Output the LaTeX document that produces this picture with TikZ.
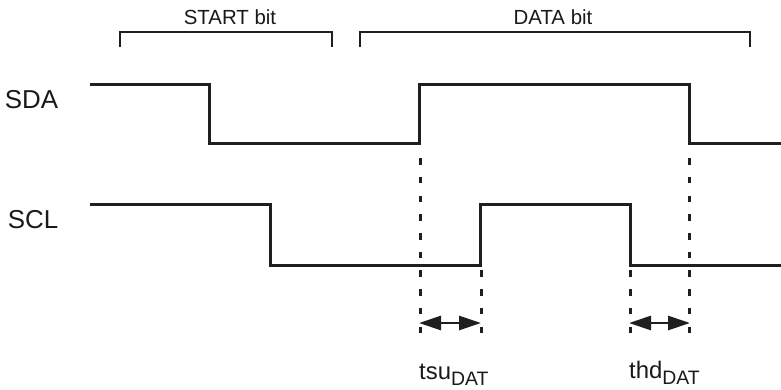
\documentclass[tikz,border=0pt]{standalone}
\usepackage{fontspec}
\setmainfont{Liberation Sans}
\usetikzlibrary{arrows.meta}
\begin{document}
\begin{tikzpicture}[x=1bp,y=-1bp,
  sig/.style={line width=3bp, line join=miter, line cap=butt, color=black!88},
  brk/.style={line width=2.8bp, color=black!88},
  guide/.style={line width=3bp, dash pattern=on 6.5bp off 12.2bp, color=black!88},
  dimarrow/.style={line width=2.8bp, color=black!88, {Triangle[length=22bp,width=14bp]}-{Triangle[length=22bp,width=14bp]}},
  siglbl/.style={font=\fontsize{26}{30}\selectfont, inner sep=0pt, text=black!90},
  brklbl/.style={font=\fontsize{20.5}{24}\selectfont, inner sep=0pt, text=black!90},
  tlbl/.style={font=\fontsize{24}{28}\selectfont, inner sep=0pt, anchor=base west, text=black!90}]
\useasboundingbox (0,0) rectangle (781,389);

% signal labels
\node[siglbl] (sda) at (31.5,99.5) {SDA};
\node[siglbl] (scl) at (33,219.5) {SCL};

% brackets
\coordinate (s1) at (120,47); \coordinate (s2) at (120,32);
\coordinate (s3) at (332,32); \coordinate (s4) at (332,47);
\draw[brk] (s1) -- (s2) -- (s3) -- (s4);
\node[brklbl] (startlbl) at (230,17.5) {START bit};
\coordinate (d1) at (360,47); \coordinate (d2) at (360,32);
\coordinate (d3) at (750,32); \coordinate (d4) at (750,47);
\draw[brk] (d1) -- (d2) -- (d3) -- (d4);
\node[brklbl] (datalbl) at (553,17.5) {DATA bit};

% SDA waveform
\coordinate (a0) at (90,84);
\coordinate (a1) at (209.5,84);
\coordinate (a2) at (209.5,143.5);
\coordinate (a3) at (419.5,143.5);
\coordinate (a4) at (419.5,84);
\coordinate (a5) at (689.5,84);
\coordinate (a6) at (689.5,143.5);
\coordinate (a7) at (781,143.5);
\draw[sig] (a0) -- (a1) -- (a2) -- (a3) -- (a4) -- (a5) -- (a6) -- (a7);

% SCL waveform
\coordinate (c0) at (90,204.5);
\coordinate (c1) at (270,204.5);
\coordinate (c2) at (270,265.5);
\coordinate (c3) at (480.5,265.5);
\coordinate (c4) at (480.5,204.5);
\coordinate (c5) at (630,204.5);
\coordinate (c6) at (630,265.5);
\coordinate (c7) at (781,265.5);
\draw[sig] (c0) -- (c1) -- (c2) -- (c3) -- (c4) -- (c5) -- (c6) -- (c7);

% guide lines (drawn upward from the bottom)
\coordinate (g1b) at (420,333); \coordinate (g1t) at (420,150);
\coordinate (g2b) at (481,333); \coordinate (g2t) at (481,270);
\coordinate (g3b) at (630,333); \coordinate (g3t) at (630,270);
\coordinate (g4b) at (689.5,333); \coordinate (g4t) at (689.5,150);
\draw[guide] (g1b) -- (g1t);
\draw[guide] (g2b) -- (g2t);
\draw[guide] (g3b) -- (g3t);
\draw[guide] (g4b) -- (g4t);

% timing arrows
\coordinate (t1l) at (419,323); \coordinate (t1r) at (481,323);
\coordinate (t2l) at (629,323); \coordinate (t2r) at (690,323);
\draw[dimarrow] (t1l) -- (t1r);
\draw[dimarrow] (t2l) -- (t2r);

% timing labels
\node[tlbl] (tsu) at (419,379) {tsu\raisebox{-6bp}{\fontsize{19.5}{22}\selectfont DAT}};
\node[tlbl] (thd) at (629,378) {thd\raisebox{-6bp}{\fontsize{19.5}{22}\selectfont DAT}};
\end{tikzpicture}
\end{document}
